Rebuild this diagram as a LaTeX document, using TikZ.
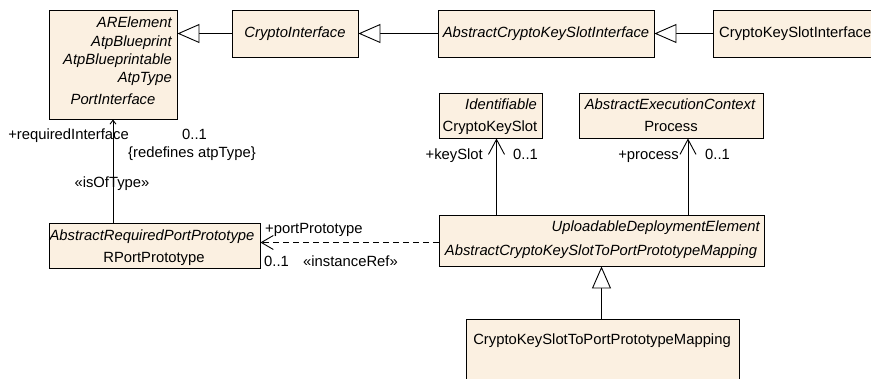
\documentclass[tikz,border=0pt]{standalone}
\usepackage{fontspec}
\setmainfont{Liberation Sans}
\usepackage{tikz}
\usetikzlibrary{arrows.meta}
\definecolor{UmlFill}{RGB}{251,240,225}
\tikzset{
  cls/.style={draw=black,fill=UmlFill,line width=0.9pt,inner sep=0pt},
  lab/.style={inner sep=0pt,text height=10pt,text depth=3pt,font=\fontsize{14.8}{17}\selectfont},
  ilab/.style={lab,font=\fontsize{14.8}{17}\selectfont\itshape},
  gen/.style={draw=black,line width=0.9pt,-{Triangle[fill=white,length=22pt,width=19pt]}},
  nav/.style={draw=black,line width=0.9pt,-{Straight Barb[length=15pt,width=16pt]}},
  navsmall/.style={draw=black,line width=0.9pt,-{Straight Barb[length=4pt,width=6pt]}},
  dep/.style={draw=black,line width=0.9pt,dash pattern=on 6pt off 4pt,-{Straight Barb[length=12pt,width=14pt]}},
}

\begin{document}
\begin{tikzpicture}[x=1pt,y=-1pt]
\clip (0,0) rectangle (871,378);
\node[cls,minimum width=128pt,minimum height=109pt] (portif) at (113,64.5) {};
\node[cls,minimum width=126pt,minimum height=47pt] (cryptoif) at (295,33.5) {};
\node[cls,minimum width=216pt,minimum height=47pt] (abscksi) at (546,33.5) {};
\node[cls,minimum width=187pt,minimum height=47pt] (cksi) at (806.5,33.5) {};
\node[cls,minimum width=103pt,minimum height=45pt] (cks) at (490.5,115.5) {};
\node[cls,minimum width=184pt,minimum height=45pt] (process) at (671,115.5) {};
\node[cls,minimum width=325pt,minimum height=51pt] (absmap) at (601.5,240.5) {};
\node[cls,minimum width=273pt,minimum height=81pt] (map) at (602.5,359.5) {};
\node[cls,minimum width=211pt,minimum height=45pt] (rport) at (154.5,245.5) {};

\node[ilab,anchor=east] (arelem) at (172,24) {ARElement};
\node[ilab,anchor=east] (atpbp) at (172,43) {AtpBlueprint};
\node[ilab,anchor=east] (atpbpable) at (172,61) {AtpBlueprintable};
\node[ilab,anchor=east] (atptype) at (172,79) {AtpType};
\node[ilab] (portifname) at (113,101) {PortInterface};
\node[ilab] (cryptoifname) at (295,34) {CryptoInterface};
\node[ilab] (abscksiname) at (546,34) {AbstractCryptoKeySlotInterface};
\node[lab,anchor=west] (cksiname) at (719,34) {CryptoKeySlotInterface};
\node[ilab,anchor=east] (identif) at (537,106) {Identifiable};
\node[lab] (cksname) at (490,128) {CryptoKeySlot};
\node[ilab] (absexec) at (670,106) {AbstractExecutionContext};
\node[lab] (processname) at (671,128) {Process};
\node[ilab,anchor=east] (uploadable) at (760,228) {UploadableDeploymentElement};
\node[ilab] (absmapname) at (601,252) {AbstractCryptoKeySlotToPortPrototypeMapping};
\node[lab] (mapname) at (602,341) {CryptoKeySlotToPortPrototypeMapping};
\node[ilab] (absreq) at (152,237) {AbstractRequiredPortPrototype};
\node[lab] (rportname) at (154,259) {RPortPrototype};

\draw[gen] (cryptoif.west) -- (cryptoif.west -| portif.east);
\draw[gen] (abscksi.west) -- (cryptoif.east);
\draw[gen] (cksi.west) -- (abscksi.east);
\draw[gen] ([xshift=-1pt]map.north) -- ([xshift=-1pt]map.north |- absmap.south);
\draw[nav] ([xshift=6pt]cks.south |- absmap.north) -- ([xshift=6pt]cks.south);
\draw[nav] ([xshift=17pt]process.south |- absmap.north) -- ([xshift=17pt]process.south);
\draw[navsmall] (portif.south |- rport.north) -- (portif.south);
\draw[dep] ([yshift=-2pt]absmap.west) -- ([yshift=-2pt]absmap.west -| rport.east);

\node[lab,anchor=east] (reqrole) at (129,136) {+requiredInterface};
\node[lab,anchor=west] (reqmult) at (182,136) {0..1};
\node[lab,anchor=west] (redef) at (128,154) {\{redefines atpType\}};
\node[lab] (isoftype) at (112,184) {«isOfType»};
\node[lab,anchor=east] (ksrole) at (483,156) {+keySlot};
\node[lab,anchor=west] (ksmult) at (513,156) {0..1};
\node[lab,anchor=east] (procrole) at (679,156) {+process};
\node[lab,anchor=west] (procmult) at (705,156) {0..1};
\node[lab,anchor=west] (pprole) at (265,230) {+portPrototype};
\node[lab,anchor=west] (ppmult) at (264,263) {0..1};
\node[lab,anchor=west] (instref) at (303,263) {«instanceRef»};
\end{tikzpicture}
\end{document}
